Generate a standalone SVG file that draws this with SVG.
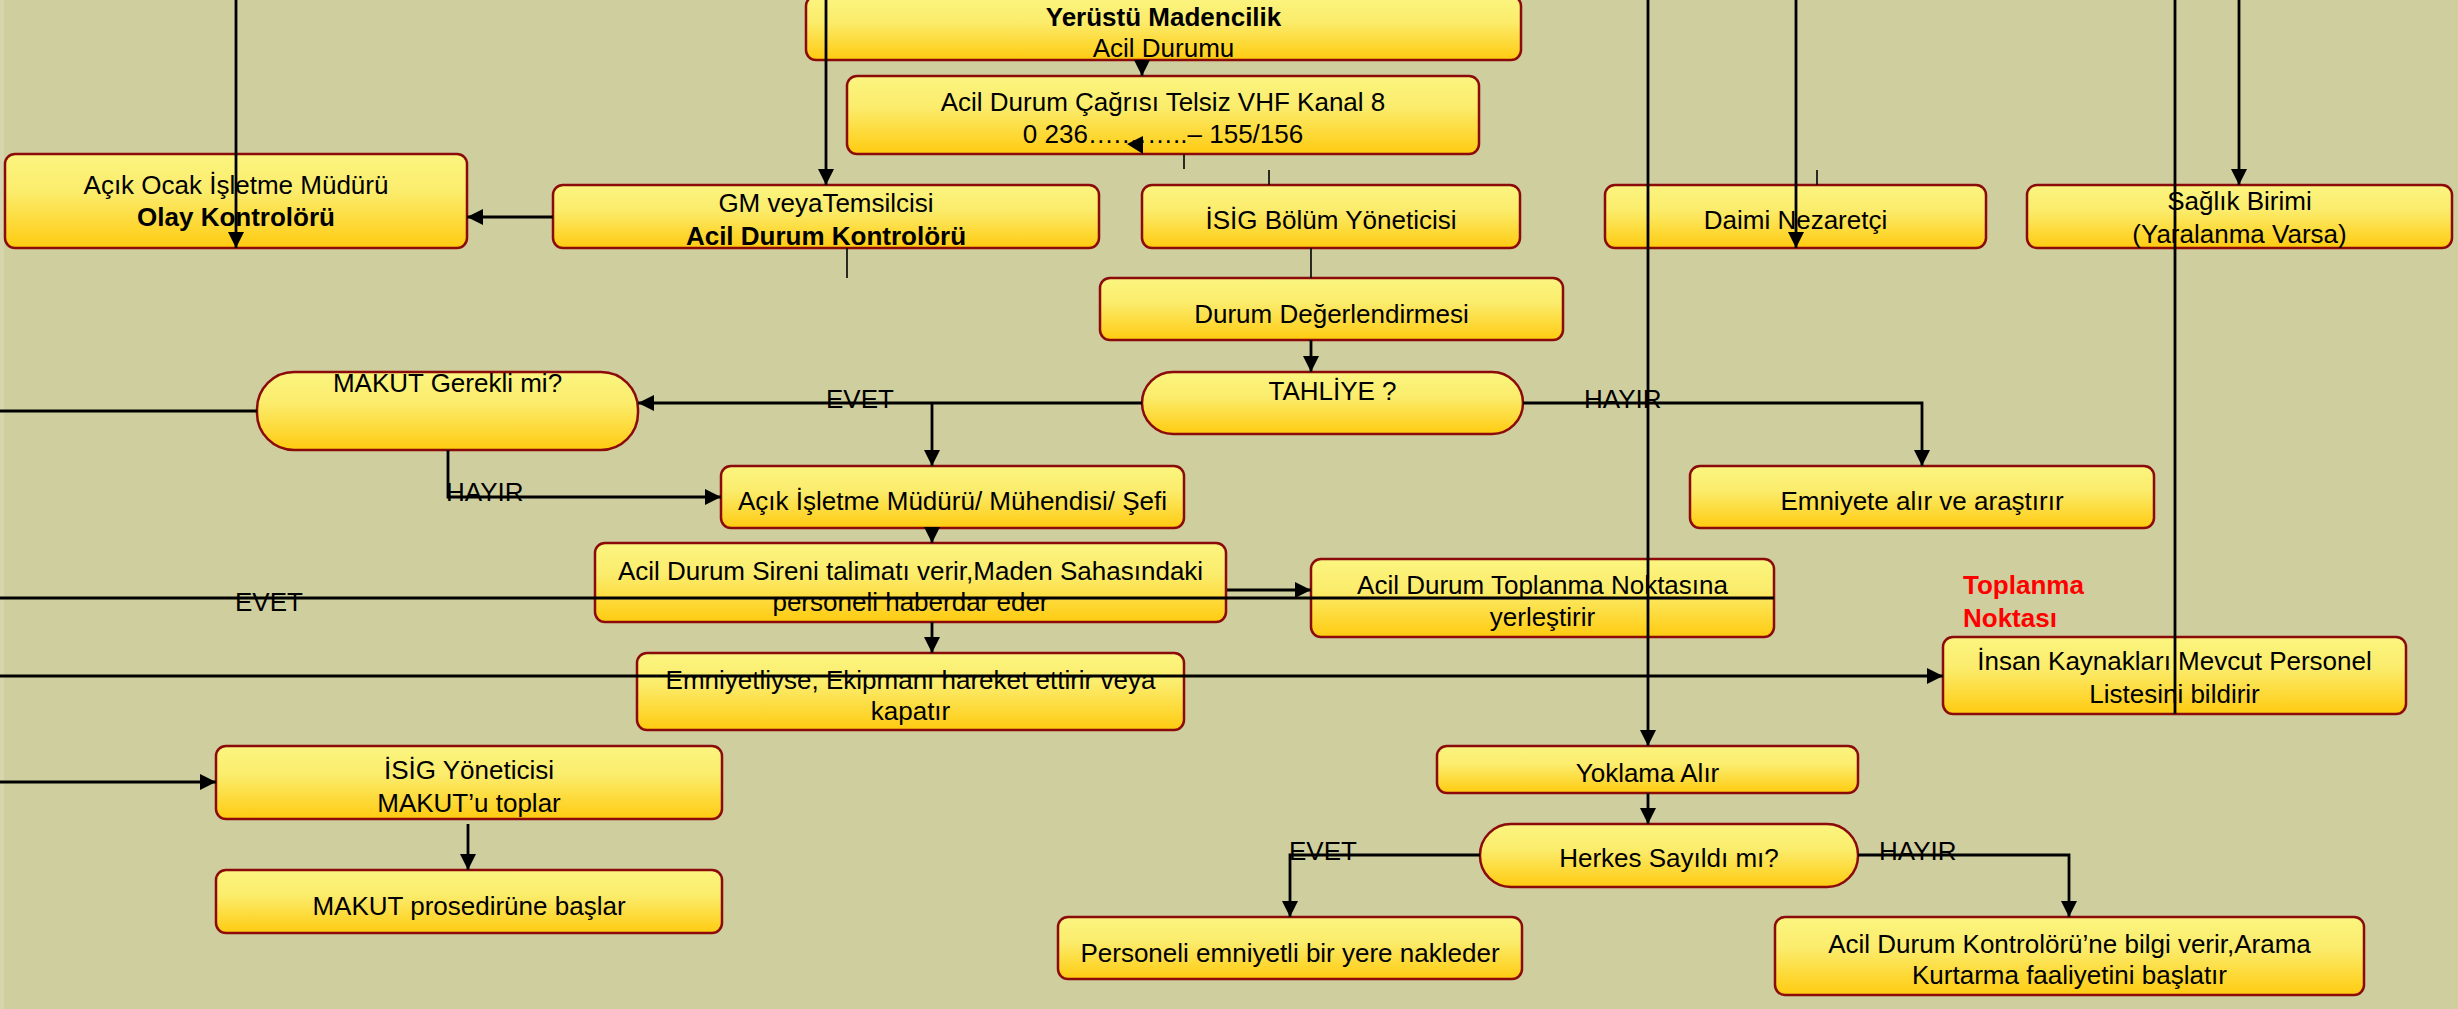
<svg xmlns="http://www.w3.org/2000/svg" width="2458" height="1009" viewBox="0 0 2458 1009">
<defs>
<linearGradient id="g" x1="0" y1="0" x2="0" y2="1">
<stop offset="0" stop-color="#FBF580"/>
<stop offset="0.4" stop-color="#FBEC6C"/>
<stop offset="1" stop-color="#FFCB10"/>
</linearGradient>
<marker id="ah" markerUnits="userSpaceOnUse" markerWidth="20" markerHeight="20" refX="16" refY="8" orient="auto">
<path d="M0,0 L16,8 L0,16 z" fill="#000"/>
</marker>
<style>
.box{fill:url(#g);stroke:#8B0A0A;stroke-width:2.5}
.t{font-family:"Liberation Sans",Arial,sans-serif;font-size:26px;fill:#000;text-anchor:middle}
.b{font-weight:bold}
.l{font-family:"Liberation Sans",Arial,sans-serif;font-size:26px;fill:#000}
.red{font-family:"Liberation Sans",Arial,sans-serif;font-size:26px;font-weight:bold;fill:#FF0000}
.c{fill:none;stroke:#000;stroke-width:2.8}
.ca{fill:none;stroke:#000;stroke-width:2.8;marker-end:url(#ah)}
.thin{fill:none;stroke:#000;stroke-width:1.6}
</style>
</defs>
<rect x="0" y="0" width="2458" height="1009" fill="#CFCE9E"/>
<rect x="0" y="0" width="4" height="1009" fill="#D6D5AC"/>

<g id="n_yerustu"><rect class="box" x="806" y="-4" width="715" height="64" rx="10"/>
<text class="t b" x="1163.5" y="26">Yerüstü Madencilik</text><text class="t" x="1163.5" y="57">Acil Durumu</text></g>
<g id="n_cagri"><rect class="box" x="847" y="76" width="632" height="78" rx="10"/>
<text class="t" x="1163" y="111">Acil Durum Çağrısı Telsiz VHF Kanal 8</text><text class="t" x="1163" y="143">0 236….……..– 155/156</text></g>
<g id="n_olay"><rect class="box" x="5" y="154" width="462" height="94" rx="10"/>
<text class="t" x="236" y="194">Açık Ocak İşletme Müdürü</text><text class="t b" x="236" y="226">Olay Kontrolörü</text></g>
<g id="n_gm"><rect class="box" x="553" y="185" width="546" height="63" rx="10"/>
<text class="t" x="826" y="212">GM veyaTemsilcisi</text><text class="t b" x="826" y="245">Acil Durum Kontrolörü</text></g>
<g id="n_isig_bolum"><rect class="box" x="1142" y="185" width="378" height="63" rx="10"/>
<text class="t" x="1331" y="229">İSİG Bölüm Yöneticisi</text></g>
<g id="n_durum"><rect class="box" x="1100" y="278" width="463" height="62" rx="10"/>
<text class="t" x="1331.5" y="323">Durum Değerlendirmesi</text></g>
<g id="n_daimi"><rect class="box" x="1605" y="185" width="381" height="63" rx="10"/>
<text class="t" x="1795.5" y="229">Daimi Nezaretçi</text></g>
<g id="n_saglik"><rect class="box" x="2027" y="185" width="425" height="63" rx="10"/>
<text class="t" x="2239.5" y="210">Sağlık Birimi</text><text class="t" x="2239.5" y="243">(Yaralanma Varsa)</text></g>
<g id="n_tahliye"><rect class="box" x="1142" y="372" width="381" height="62" rx="31"/>
<text class="t" x="1332.5" y="400">TAHLİYE ?</text></g>
<g id="n_makut_q"><rect class="box" x="257" y="372" width="381" height="78" rx="37"/>
<text class="t" x="447.5" y="392">MAKUT Gerekli mi?</text></g>
<g id="n_acik_isletme"><rect class="box" x="721" y="466" width="463" height="62" rx="10"/>
<text class="t" x="952.5" y="510">Açık İşletme Müdürü/ Mühendisi/ Şefi</text></g>
<g id="n_emniyete"><rect class="box" x="1690" y="466" width="464" height="62" rx="10"/>
<text class="t" x="1922" y="510">Emniyete alır ve araştırır</text></g>
<g id="n_siren"><rect class="box" x="595" y="543" width="631" height="79" rx="10"/>
<text class="t" x="910.5" y="580">Acil Durum Sireni talimatı verir,Maden Sahasındaki</text><text class="t" x="910.5" y="611">personeli haberdar eder</text></g>
<g id="n_toplanma"><rect class="box" x="1311" y="559" width="463" height="78" rx="10"/>
<text class="t" x="1542.5" y="594">Acil Durum Toplanma Noktasına</text><text class="t" x="1542.5" y="626">yerleştirir</text></g>
<g id="n_toplanma_label"><text class="red" x="1963" y="594">Toplanma</text><text class="red" x="1963" y="627">Noktası</text></g>
<g id="n_insan"><rect class="box" x="1943" y="637" width="463" height="77" rx="10"/>
<text class="t" x="2174.5" y="670">İnsan Kaynakları Mevcut Personel</text><text class="t" x="2174.5" y="703">Listesini bildirir</text></g>
<g id="n_emniyetliyse"><rect class="box" x="637" y="653" width="547" height="77" rx="10"/>
<text class="t" x="910.5" y="689">Emniyetliyse, Ekipmanı hareket ettirir veya</text><text class="t" x="910.5" y="720">kapatır</text></g>
<g id="n_isig_yon"><rect class="box" x="216" y="746" width="506" height="73" rx="10"/>
<text class="t" x="469" y="779">İSİG Yöneticisi</text><text class="t" x="469" y="812">MAKUT’u toplar</text></g>
<g id="n_makut_pros"><rect class="box" x="216" y="870" width="506" height="63" rx="10"/>
<text class="t" x="469" y="915">MAKUT prosedirüne başlar</text></g>
<g id="n_yoklama"><rect class="box" x="1437" y="746" width="421" height="47" rx="10"/>
<text class="t" x="1647.5" y="782">Yoklama Alır</text></g>
<g id="n_herkes"><rect class="box" x="1480" y="824" width="378" height="63" rx="31"/>
<text class="t" x="1669" y="867">Herkes Sayıldı mı?</text></g>
<g id="n_personeli"><rect class="box" x="1058" y="917" width="464" height="62" rx="10"/>
<text class="t" x="1290" y="962">Personeli emniyetli bir yere nakleder</text></g>
<g id="n_acil_kontrol"><rect class="box" x="1775" y="917" width="589" height="78" rx="10"/>
<text class="t" x="2069.5" y="953">Acil Durum Kontrolörü’ne bilgi verir,Arama</text><text class="t" x="2069.5" y="984">Kurtarma faaliyetini başlatır</text></g>

<g id="connectors">
<path class="ca" d="M236,0 V248"/>
<path class="ca" d="M826,0 V185"/>
<path class="ca" d="M1142,60 V76"/>
<polygon points="1127,144 1143,136 1143,154" fill="#000"/>
<path class="thin" d="M1184,154 V169"/>
<path class="thin" d="M1269,170 V185"/>
<path class="thin" d="M1817,170 V185"/>
<path class="thin" d="M847,248 V278"/>
<path class="thin" d="M1311,248 V278"/>
<path class="ca" d="M553,217 H467"/>
<path class="ca" d="M1648,0 V746"/>
<path class="ca" d="M1796,0 V248"/>
<path class="c" d="M2175,0 V714"/>
<path class="ca" d="M2239,0 V185"/>
<path class="ca" d="M1311,340 V372"/>
<path class="ca" d="M1142,403 H638"/>
<path class="ca" d="M932,403 V466"/>
<path class="ca" d="M932,528 V543"/>
<path class="ca" d="M932,622 V653"/>
<path class="ca" d="M1227,590 H1311"/>
<path class="ca" d="M1523,403 H1922 V466"/>
<path class="c" d="M257,411 H0"/>
<path class="ca" d="M448,450 V497 H721"/>
<path class="c" d="M0,598 H1774"/>
<path class="ca" d="M0,676 H1943"/>
<path class="ca" d="M0,782 H216"/>
<path class="ca" d="M468,824 V870"/>
<path class="ca" d="M1648,793 V824"/>
<path class="ca" d="M1480,855 H1290 V917"/>
<path class="ca" d="M1858,855 H2069 V917"/>
</g>
<g id="labels">
<text class="l" x="826" y="408">EVET</text>
<text class="l" x="1584" y="408">HAYIR</text>
<text class="l" x="446" y="501">HAYIR</text>
<text class="l" x="235" y="611">EVET</text>
<text class="l" x="1289" y="860">EVET</text>
<text class="l" x="1879" y="860">HAYIR</text>
</g>
</svg>
